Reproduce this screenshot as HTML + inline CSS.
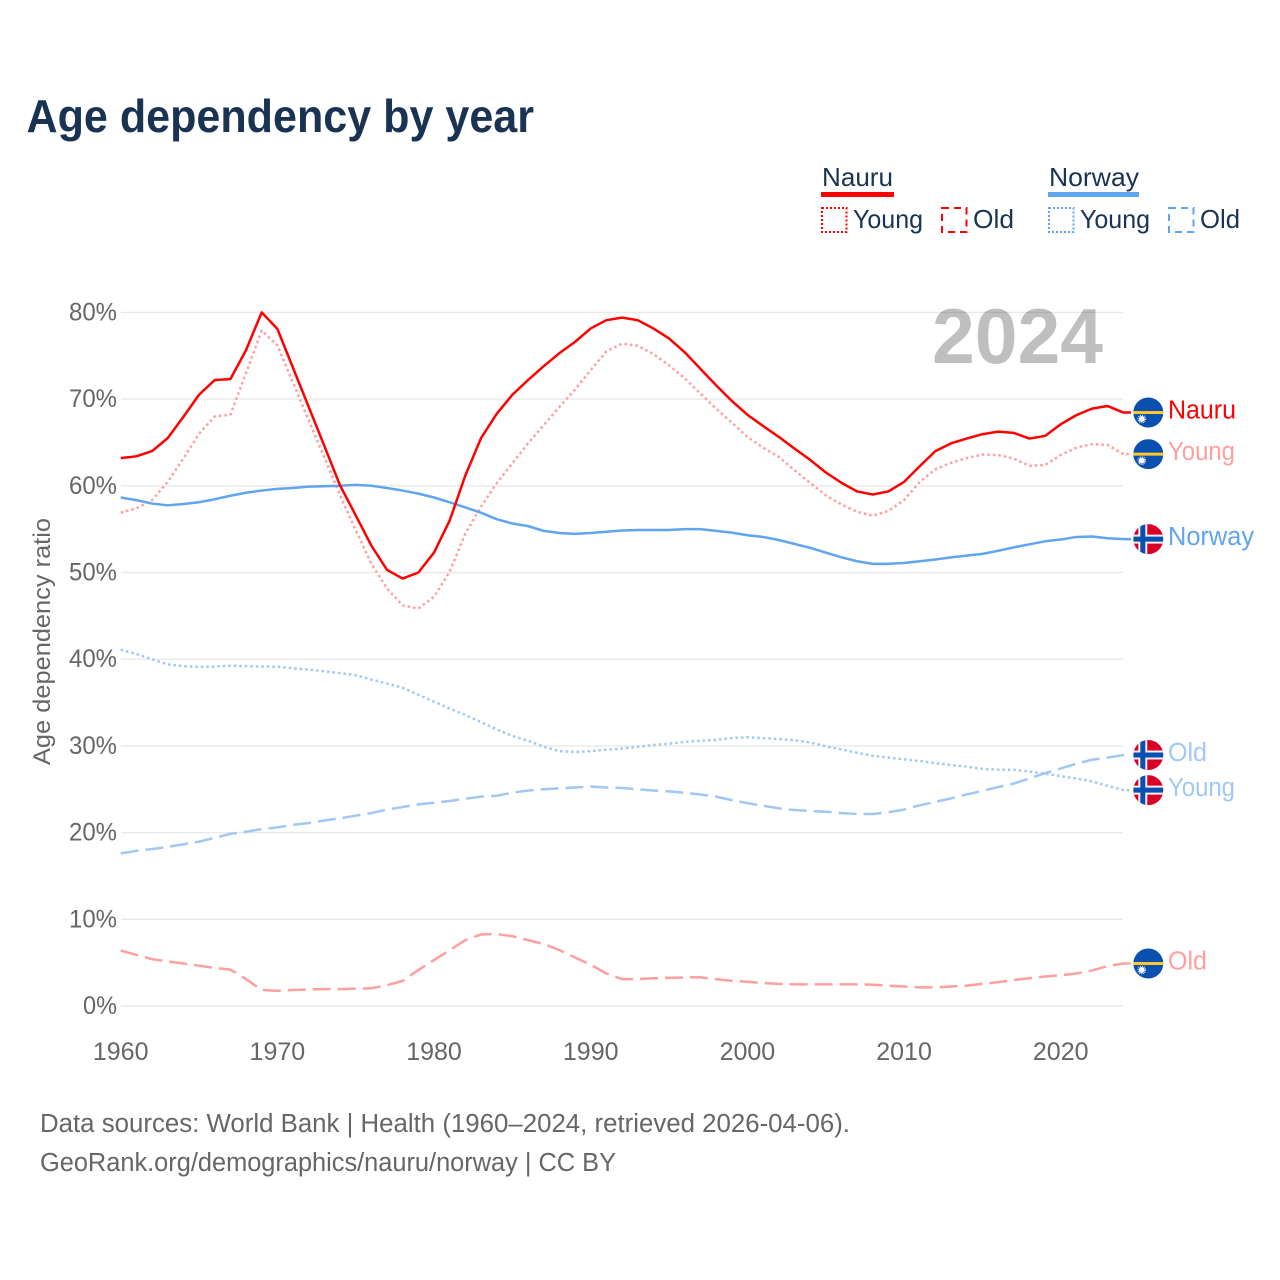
<!DOCTYPE html>
<html lang="en">
<head>
<meta charset="utf-8">
<title>Age dependency by year</title>
<style>
html,body{margin:0;padding:0;background:#fff;}
svg{display:block;}
text{font-family:"Liberation Sans",sans-serif;}
</style>
</head>
<body>
<svg id="chart" xmlns="http://www.w3.org/2000/svg" width="1280" height="1280" viewBox="0 0 1280 1280">
  <defs>
    <clipPath id="flag-clip"><circle cx="0" cy="0" r="15"></circle></clipPath>
  </defs>
  <rect x="0" y="0" width="1280" height="1280" fill="#ffffff"></rect>

  <text x="26.5" y="132" font-size="46" font-weight="700" fill="#1a3353" textLength="507.5" lengthAdjust="spacingAndGlyphs">Age dependency by year</text>

  <g>
    <text x="822" y="186" font-size="26" fill="#1a3353" textLength="71" lengthAdjust="spacingAndGlyphs">Nauru</text>
    <rect x="821" y="192" width="73" height="5" fill="#ff0000"></rect>
    <rect x="822" y="208" width="24.5" height="24" fill="none" stroke="#ff0000" stroke-width="2" stroke-dasharray="2 2"></rect>
    <text x="853" y="228" font-size="26" fill="#1a3353" textLength="70" lengthAdjust="spacingAndGlyphs">Young</text>
    <rect x="942" y="208" width="24.5" height="24" fill="none" stroke="#ff0000" stroke-width="2" stroke-dasharray="7 5"></rect>
    <text x="973" y="228" font-size="26" fill="#1a3353" textLength="41" lengthAdjust="spacingAndGlyphs">Old</text>

    <text x="1049" y="186" font-size="26" fill="#1a3353" textLength="90" lengthAdjust="spacingAndGlyphs">Norway</text>
    <rect x="1048" y="192" width="91" height="5" fill="#60a5f0"></rect>
    <rect x="1049" y="208" width="24.5" height="24" fill="none" stroke="#60a5f0" stroke-width="2" stroke-dasharray="2 2"></rect>
    <text x="1080" y="228" font-size="26" fill="#1a3353" textLength="70" lengthAdjust="spacingAndGlyphs">Young</text>
    <rect x="1169" y="208" width="24.5" height="24" fill="none" stroke="#60a5f0" stroke-width="2" stroke-dasharray="7 5"></rect>
    <text x="1200" y="228" font-size="26" fill="#1a3353" textLength="40" lengthAdjust="spacingAndGlyphs">Old</text>
  </g>

  <g id="grid"></g>
  <g id="y-axis"></g>
  <g id="x-axis"></g>

  <text x="932" y="363" font-size="78" font-weight="700" fill="#000000" fill-opacity="0.25" textLength="171" lengthAdjust="spacingAndGlyphs">2024</text>

  <text transform="translate(50,765) rotate(-90)" font-size="24.5" fill="#666666" textLength="247" lengthAdjust="spacingAndGlyphs">Age dependency ratio</text>

  <g id="series"></g>
  <g id="end-labels"></g>

  <text x="40" y="1132" font-size="25.5" fill="#666666" textLength="810" lengthAdjust="spacingAndGlyphs">Data sources: World Bank | Health (1960–2024, retrieved 2026-04-06).</text>
  <text x="40" y="1171" font-size="25.5" fill="#666666" textLength="576" lengthAdjust="spacingAndGlyphs">GeoRank.org/demographics/nauru/norway | CC BY</text>
</svg>

<script>
const startYear = 1960;
const xTickYears = [1960, 1970, 1980, 1990, 2000, 2010, 2020];
const yTickValues = [0, 10, 20, 30, 40, 50, 60, 70, 80];

const nauruTotal = [63.2,63.4,64,65.5,67.95,70.5,72.2,72.3,75.65,80,
78.1,73.6,69.1,64.6,60.05,56.6,53.1,50.3,49.3,50,
52.3,56,61.2,65.5,68.3,70.5,72.2,73.8,75.3,76.6,
78.15,79.1,79.4,79.1,78.15,77,75.4,73.5,71.6,69.8,
68.2,66.9,65.65,64.3,63,61.55,60.35,59.35,59,59.35,
60.45,62.25,64,64.9,65.45,65.95,66.25,66.1,65.45,65.75,
67.1,68.15,68.9,69.2,68.45];

const nauruYoung = [56.9,57.4,58.35,60.45,63.15,66,68,68.2,73,77.9,
76.2,71.9,67.55,63.25,58.9,54.9,51,48.15,46.2,45.85,
47.2,50.1,54.5,57.6,60.3,62.6,64.9,67,69.1,71.1,
73.35,75.5,76.4,76.15,75.2,73.9,72.4,70.65,68.9,67.3,
65.65,64.4,63.35,61.8,60.35,58.9,57.85,57,56.55,57.1,
58.35,60.45,61.9,62.65,63.2,63.6,63.55,63.15,62.3,62.4,
63.55,64.4,64.8,64.7,63.65];

const nauruOld = [6.4,5.9,5.4,5.15,4.9,4.65,4.4,4.2,3.1,1.85,
1.75,1.85,1.9,1.95,1.95,2,2.05,2.4,2.9,4.15,
5.3,6.45,7.6,8.25,8.3,8.05,7.6,7.15,6.45,5.6,
4.75,3.75,3.1,3.1,3.2,3.25,3.3,3.3,3.1,2.9,
2.8,2.65,2.55,2.5,2.5,2.5,2.5,2.5,2.45,2.35,
2.25,2.15,2.15,2.25,2.35,2.55,2.75,3,3.2,3.4,
3.55,3.75,4.1,4.6,4.9];

const norwayTotal = [58.65,58.35,57.95,57.75,57.9,58.1,58.45,58.85,59.2,59.45,
59.65,59.75,59.9,59.95,60,60.1,60,59.75,59.45,59.1,
58.65,58.1,57.5,56.9,56.15,55.65,55.35,54.8,54.55,54.45,
54.55,54.7,54.85,54.9,54.9,54.9,55,55,54.8,54.6,
54.3,54.1,53.75,53.3,52.85,52.3,51.75,51.3,51,51,
51.1,51.3,51.5,51.75,51.95,52.15,52.5,52.9,53.25,53.6,
53.8,54.1,54.15,53.95,53.85];

const norwayYoung = [41.1,40.6,40,39.4,39.2,39.1,39.15,39.25,39.2,39.15,
39.15,38.95,38.8,38.6,38.4,38.15,37.65,37.2,36.7,35.9,
35.1,34.3,33.55,32.75,31.9,31.15,30.6,29.9,29.4,29.3,
29.4,29.55,29.7,29.9,30.1,30.25,30.45,30.6,30.7,30.9,
31,30.9,30.8,30.65,30.4,29.95,29.6,29.2,28.85,28.65,
28.45,28.25,28,27.8,27.6,27.35,27.25,27.25,27.05,26.8,
26.5,26.25,25.9,25.4,24.9];

const norwayOld = [17.6,17.9,18.1,18.35,18.65,18.95,19.4,19.85,20.1,20.4,
20.6,20.9,21.1,21.4,21.65,21.95,22.25,22.65,22.95,23.25,
23.45,23.65,23.9,24.15,24.25,24.6,24.85,25,25.1,25.2,
25.3,25.2,25.15,25,24.85,24.75,24.6,24.4,24.15,23.75,
23.4,23.1,22.8,22.6,22.5,22.4,22.25,22.15,22.15,22.35,
22.65,23.15,23.55,23.95,24.4,24.8,25.25,25.65,26.25,26.85,
27.4,27.95,28.4,28.65,28.95];

const NS = 'http://www.w3.org/2000/svg';
function xScale(year) { return 120.7 + (year - startYear) * 15.667; }
function yScale(value) { return 1006 - value * 8.67; }
function make(parent, tag, attrs, text) {
  const el = document.createElementNS(NS, tag);
  Object.keys(attrs).forEach(function (k) { el.setAttribute(k, attrs[k]); });
  if (text !== undefined) el.textContent = text;
  parent.appendChild(el);
  return el;
}

const gridGroup = document.getElementById('grid');
const yAxisGroup = document.getElementById('y-axis');
const xAxisGroup = document.getElementById('x-axis');
const seriesGroup = document.getElementById('series');
const labelGroup = document.getElementById('end-labels');

yTickValues.forEach(function (v) {
  const line = make(gridGroup, 'line', { x1: 121, x2: 1123, y1: yScale(v), y2: yScale(v), stroke: '#e9e9e9', 'stroke-width': 1.4 });
  
  
  const labelText = v + '%';
  const label = make(yAxisGroup, 'text', { x: 117, y: yScale(v) + 8, 'font-size': 25, fill: '#666666', 'text-anchor': 'end', textLength: labelText.length > 2 ? 48 : 34, lengthAdjust: 'spacingAndGlyphs' }, labelText);
  
  
});

xTickYears.forEach(function (year) {
  const label = make(xAxisGroup, 'text', { x: xScale(year), y: 1060, 'font-size': 25, fill: '#666666', 'text-anchor': 'middle' }, String(year));
  
  
});

function drawSeries(values, color, dash) {
  let d = '';
  values.forEach(function (v, i) {
    d += (i ? 'L' : 'M') + xScale(startYear + i).toFixed(2) + ' ' + yScale(v).toFixed(2);
  });
  d += 'L1131 ' + yScale(values[values.length - 1]).toFixed(2);
  const attrs = { d: d, fill: 'none', stroke: color, 'stroke-width': 2.5, 'stroke-linejoin': 'round' };
  if (dash) attrs['stroke-dasharray'] = dash;
  return make(seriesGroup, 'path', attrs);
}

const lineNorwayOld = drawSeries(norwayOld, '#a0c8f3', '18 7');


const lineNorwayYoung = drawSeries(norwayYoung, '#a0c8f3', '2.5 3');


const lineNauruOld = drawSeries(nauruOld, '#ff9f9f', '18 7');


const lineNauruYoung = drawSeries(nauruYoung, '#ff9f9f', '2.5 3');


const lineNorwayTotal = drawSeries(norwayTotal, '#60a5f0');


const lineNauruTotal = drawSeries(nauruTotal, '#ff0000');



function drawFlag(kind, cy) {
  const g = make(labelGroup, 'g', { transform: 'translate(1148.3,' + cy.toFixed(2) + ')', 'clip-path': 'url(#flag-clip)' });
  if (kind === 'nauru') {
    make(g, 'rect', { x: -15, y: -15, width: 30, height: 30, fill: '#0a50b0' });
    make(g, 'rect', { x: -15, y: -1.5, width: 30, height: 3, fill: '#ffc72c' });
    make(g, 'circle', { cx: -6.5, cy: 6.5, r: 3, fill: '#ffffff' });
    make(g, 'circle', { cx: -6.5, cy: 6.5, r: 3.8, fill: 'none', stroke: '#ffffff', 'stroke-width': 1, 'stroke-dasharray': '1 1' });
  } else {
    make(g, 'rect', { x: -15, y: -15, width: 30, height: 30, fill: '#d80027' });
    make(g, 'rect', { x: -10, y: -15, width: 9, height: 30, fill: '#f0f0f0' });
    make(g, 'rect', { x: -15, y: -4.5, width: 30, height: 9, fill: '#f0f0f0' });
    make(g, 'rect', { x: -8, y: -15, width: 5, height: 30, fill: '#0a50b0' });
    make(g, 'rect', { x: -15, y: -2.5, width: 30, height: 5, fill: '#0a50b0' });
  }
  return g;
}

function drawEndLabel(text, color, width, values) {
  const y = yScale(values[values.length - 1]);
  return make(labelGroup, 'text', { x: 1168, y: y + 6, 'font-size': 25.5, fill: color, textLength: width, lengthAdjust: 'spacingAndGlyphs' }, text);
}

const flagNauruTotal = drawFlag('nauru', yScale(nauruTotal[64]));


const labelNauruTotal = drawEndLabel('Nauru', '#ff0000', 68, nauruTotal);



const flagNauruYoung = drawFlag('nauru', yScale(nauruYoung[64]));


const labelNauruYoung = drawEndLabel('Young', '#ff9f9f', 67, nauruYoung);



const flagNauruOld = drawFlag('nauru', yScale(nauruOld[64]));


const labelNauruOld = drawEndLabel('Old', '#ff9f9f', 39, nauruOld);



const flagNorwayTotal = drawFlag('norway', yScale(norwayTotal[64]));


const labelNorwayTotal = drawEndLabel('Norway', '#60a5f0', 86, norwayTotal);



const flagNorwayOld = drawFlag('norway', yScale(norwayOld[64]));


const labelNorwayOld = drawEndLabel('Old', '#a0c8f3', 39, norwayOld);



const flagNorwayYoung = drawFlag('norway', yScale(norwayYoung[64]));


const labelNorwayYoung = drawEndLabel('Young', '#a0c8f3', 67, norwayYoung);


</script>
</body>
</html>
